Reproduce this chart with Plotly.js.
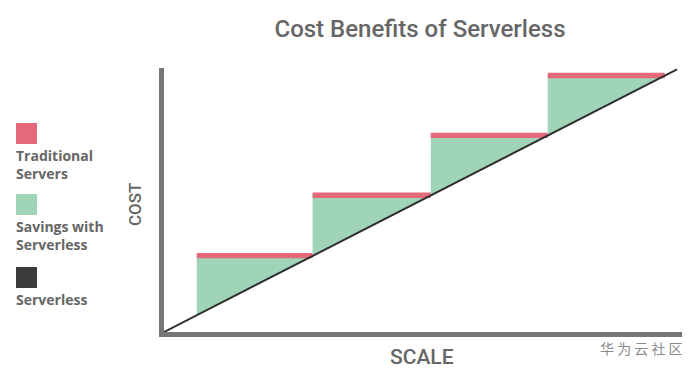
<!DOCTYPE html>
<html>
<head>
<meta charset="utf-8">
<script src="https://cdn.plot.ly/plotly-3.0.1.min.js"></script>
<style>html,body{margin:0;padding:0;background:#fff;}#chart{width:697px;height:370px;}</style>
</head>
<body>
<div id="chart"></div>
<script>
// Data (scale units on x, cost units on y)
var stepStart = [0.28, 1.27, 2.28, 3.28];
var stepEnd   = [1.27, 2.28, 3.28, 4.28];
var serverlessScale = [0, 4.385];
var serverlessCost  = [0, 4.385];
var legendLabels = ['Traditional<br>Servers', 'Savings with<br>Serverless', 'Serverless'];

var RED = '#e4697a', GREEN = '#9fd4b8', DARK = '#2e2e2e', AXIS = '#767676', TXT = '#666666';

var W = 697, H = 370, L = 164, R = 15, T = 68, B = 38;
var PW = W - L - R, PH = H - T - B;
function px(x) { return (x - L) / PW; }
function py(y) { return (H - B - y) / PH; }

var traces = [];
// Savings (green) triangles between the step level and the serverless line
for (var i = 0; i < stepStart.length; i++) {
  var s = stepStart[i], e = stepEnd[i];
  traces.push({
    x: [s, s, e, s], y: [s, e, e, s],
    type: 'scatter', mode: 'lines', fill: 'toself',
    fillcolor: GREEN, line: {width: 0, color: GREEN},
    hoverinfo: 'skip', showlegend: false
  });
}
// Traditional servers (red) bands on top of each step
for (var j = 0; j < stepStart.length; j++) {
  var s2 = stepStart[j], e2 = stepEnd[j];
  var lo = e2 - 0.04, hi = e2 + 0.05;
  traces.push({
    x: [s2, s2, e2, e2, s2], y: [lo, hi, hi, lo, lo],
    type: 'scatter', mode: 'lines', fill: 'toself',
    fillcolor: RED, line: {width: 0, color: RED},
    hoverinfo: 'skip', showlegend: false
  });
}
// Serverless cost line
traces.push({
  x: serverlessScale, y: serverlessCost,
  type: 'scatter', mode: 'lines',
  line: {color: DARK, width: 2},
  hoverinfo: 'skip', showlegend: false
});

var legendColors = [RED, GREEN, '#3b3b3b'];
var legendTop = [123, 194, 267];
var shapes = [];
var annotations = [];
for (var k = 0; k < legendLabels.length; k++) {
  shapes.push({
    type: 'rect', xref: 'paper', yref: 'paper',
    x0: px(16), x1: px(37), y0: py(legendTop[k]), y1: py(legendTop[k] + 21),
    fillcolor: legendColors[k], line: {width: 0}
  });
  annotations.push({
    xref: 'paper', yref: 'paper', x: px(14), y: py(legendTop[k] + 21),
    xanchor: 'left', yanchor: 'top', align: 'left', showarrow: false,
    text: legendLabels[k],
    font: {family: 'Open Sans', size: 14, color: TXT, weight: 700}
  });
}

// axis titles
annotations.push({
  xref: 'paper', yref: 'paper', x: px(422), y: py(370), xanchor: 'center', yanchor: 'bottom',
  showarrow: false, text: 'SCALE', borderpad: 0,
  font: {family: 'Roboto', size: 21, color: TXT, weight: 500}
});
annotations.push({
  xref: 'paper', yref: 'paper', x: px(134.5), y: py(204.5), xanchor: 'center', yanchor: 'middle',
  showarrow: false, text: 'COST', textangle: -90, font: {family: 'Roboto', size: 17, color: TXT, weight: 500}
});
// watermark
annotations.push({
  xref: 'paper', yref: 'paper', x: px(641.5), y: py(347.5), xanchor: 'center', yanchor: 'middle',
  showarrow: false, text: '华 为 云 社 区', font: {family: 'Noto Sans CJK SC', size: 14, color: '#8a8a8a'}
});

var layout = {
  width: W, height: H,
  margin: {l: L, r: R, t: T, b: B, pad: 0},
  paper_bgcolor: '#ffffff', plot_bgcolor: '#ffffff',
  title: {
    text: 'Cost Benefits of Serverless',
    x: px(420), xanchor: 'center', xref: 'paper',
    y: 1 - 28.5 / H, yanchor: 'middle', yref: 'container',
    font: {family: 'Roboto', size: 24, color: TXT, weight: 500}
  },
  xaxis: {
    range: [0, PW / 117], showgrid: false, zeroline: false, showticklabels: false, ticks: '',
    showline: true, linecolor: AXIS, linewidth: 5, fixedrange: true
  },
  yaxis: {
    range: [0, PH / 59.87], showgrid: false, zeroline: false, showticklabels: false, ticks: '',
    showline: true, linecolor: AXIS, linewidth: 5, fixedrange: true
  },
  shapes: shapes,
  annotations: annotations,
  showlegend: false
};

Plotly.newPlot('chart', traces, layout, {displayModeBar: false, staticPlot: true});
</script>
</body>
</html>
